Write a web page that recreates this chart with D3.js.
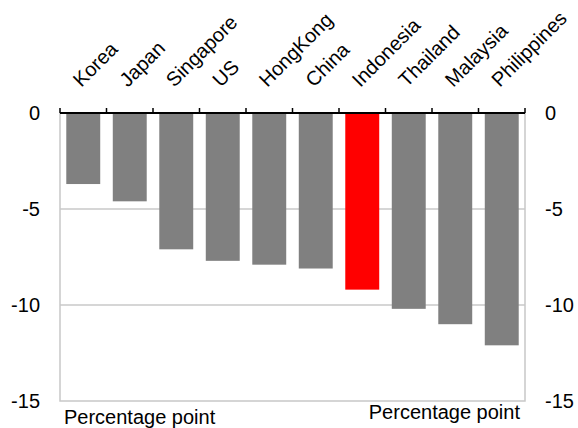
<!DOCTYPE html>
<html>
<head>
<meta charset="utf-8">
<script src="https://cdn.jsdelivr.net/npm/d3@7"></script>
<style>
  html, body { margin: 0; padding: 0; background: #fff; }
  svg { display: block; font-family: "Liberation Sans", Arial, sans-serif; }
</style>
</head>
<body>
<svg id="chart" width="578" height="428"></svg>
<script>
// Change in percentage points by economy
const categories = ["Korea", "Japan", "Singapore", "US", "HongKong", "China", "Indonesia", "Thailand", "Malaysia", "Philippines"];
const values = [-3.7, -4.6, -7.1, -7.7, -7.9, -8.1, -9.2, -10.2, -11.0, -12.1];
const highlight = ["Indonesia"];
const yTicks = [0, -5, -10, -15];
const unitLabel = "Percentage point";

const svg = d3.select("#chart");
const plotLeft = 60, plotRight = 525, plotTop = 113, plotBottom = 401;

const x = d3.scaleBand().domain(categories).range([plotLeft, plotRight]).paddingInner(0.27).paddingOuter(0.135);
const y = d3.scaleLinear().domain([0, -15]).range([plotTop, plotBottom]);

// gridlines
svg.append("g").selectAll("line")
  .data(yTicks.filter(d => d !== 0 && d !== -15))
  .join("line")
  .attr("x1", plotLeft).attr("x2", plotRight)
  .attr("y1", d => y(d)).attr("y2", d => y(d))
  .attr("stroke", "#c8c8c8").attr("stroke-width", 1.5);

// plot frame (left, right, bottom)
svg.append("path")
  .attr("d", `M${plotLeft},${plotTop}V${y(-15)}H${plotRight}V${plotTop}`)
  .attr("fill", "none").attr("stroke", "#c8c8c8").attr("stroke-width", 1.5);

// bars
svg.append("g").selectAll("rect")
  .data(categories.map((c, i) => ({ c, v: values[i] })))
  .join("rect")
  .attr("x", d => x(d.c))
  .attr("width", x.bandwidth())
  .attr("y", y(0))
  .attr("height", d => y(d.v) - y(0))
  .attr("fill", d => highlight.includes(d.c) ? "#ff0000" : "#808080");

// zero axis with category boundary ticks
const bounds = d3.range(categories.length + 1).map(i => plotLeft + i * (plotRight - plotLeft) / categories.length);
svg.append("g").selectAll("line")
  .data(bounds)
  .join("line")
  .attr("x1", d => d).attr("x2", d => d)
  .attr("y1", y(0) - 5).attr("y2", y(0))
  .attr("stroke", "#000").attr("stroke-width", 1.5);
svg.append("line")
  .attr("x1", plotLeft).attr("x2", plotRight)
  .attr("y1", y(0)).attr("y2", y(0))
  .attr("stroke", "#000").attr("stroke-width", 2);

// category labels
svg.append("g").selectAll("text")
  .data(categories)
  .join("text")
  .attr("transform", d => `translate(${x(d) + x.bandwidth() / 2 - 2},${88}) rotate(-45)`)
  .attr("text-anchor", "start")
  .attr("font-size", 20)
  .attr("fill", "#000")
  .text(d => d);

// left and right value axes (plain hyphen for negatives)
const fmt = d => String(d);
const leftAxis = d3.axisLeft(y).tickValues(yTicks).tickFormat(fmt).tickSize(0).tickPadding(20);
const rightAxis = d3.axisRight(y).tickValues(yTicks).tickFormat(fmt).tickSize(0).tickPadding(20);
[svg.append("g").attr("transform", `translate(${plotLeft},0)`).call(leftAxis),
 svg.append("g").attr("transform", `translate(${plotRight},0)`).call(rightAxis)].forEach(g => {
  g.select(".domain").remove();
  g.selectAll("text").attr("font-size", 20).attr("fill", "#000")
    .attr("font-family", '"Liberation Sans", Arial, sans-serif');
});

// unit labels
svg.append("text").attr("x", 64).attr("y", 424).attr("font-size", 20).text(unitLabel);
svg.append("text").attr("x", 520).attr("y", 419).attr("text-anchor", "end").attr("font-size", 20).text(unitLabel);
</script>
</body>
</html>
